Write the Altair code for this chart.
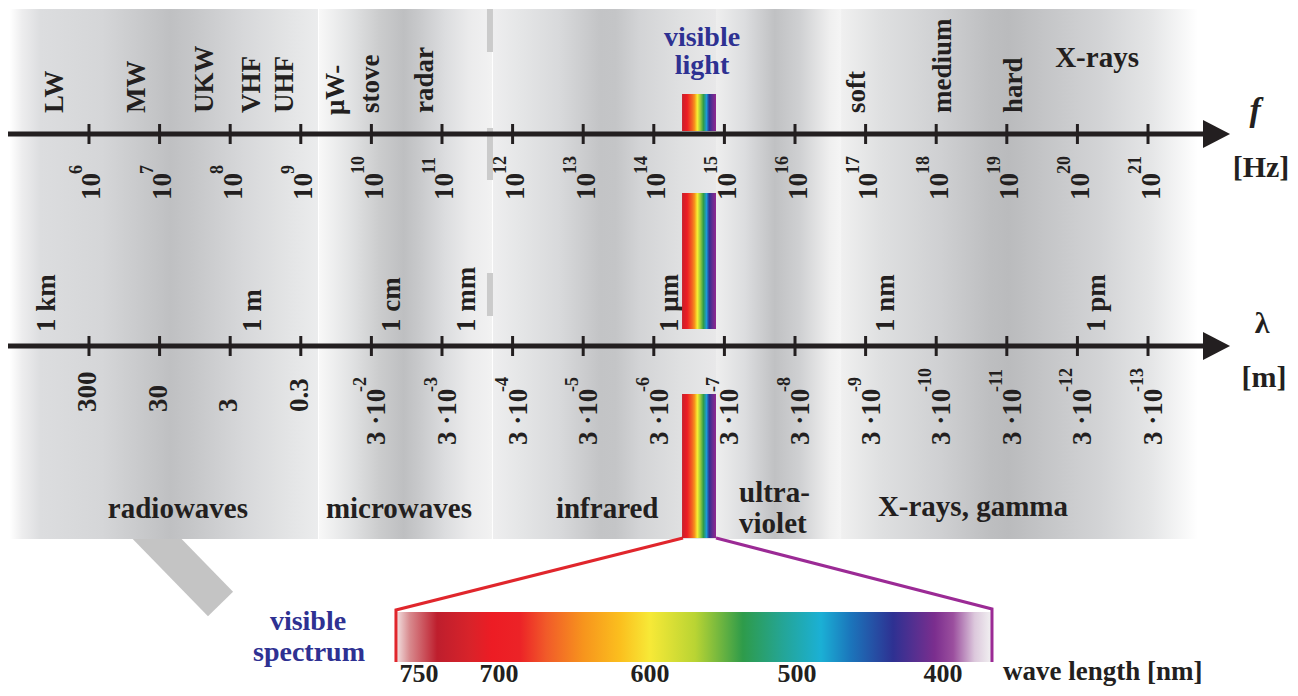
import altair as alt
import pandas as pd

# ---------------- data ----------------
# frequency decades (log10 f/Hz) carrying a tick on both axes
f_exponents = list(range(6, 22))
# wavelength labels under the lambda axis
lam_plain_text = ["300", "30", "3", "0.3"]          # at 10^6 .. 10^9 Hz
lam_plain_pos = [6, 7, 8, 9]
lam_exp_text = ["-2", "-3", "-4", "-5", "-6", "-7", "-8", "-9", "-10", "-11", "-12", "-13"]
lam_exp_pos = list(range(10, 22))

# names above the frequency axis (position in log10 f)
f_top_text = ["LW", "MW", "UKW", "VHF", "UHF", "\u03bcW-", "stove", "radar", "soft", "medium", "hard"]
f_top_pos = [5.52, 6.68, 7.64, 8.31, 8.78, 9.50, 9.99, 10.76, 16.88, 18.10, 19.10]

# names above the wavelength axis
lam_top_text = ["1 km", "1 m", "1 cm", "1 mm", "1 \u03bcm", "1 nm", "1 pm"]
lam_top_pos = [5.41, 8.32, 10.29, 11.35, 14.23, 17.29, 20.28]

# spectral regions (band limits in log10 f)
region_text = ["radiowaves", "microwaves", "infrared", "X-rays, gamma"]
region_pos = [7.26, 10.39, 13.34, 18.52]
band_start = [4.88, 9.258, 11.722, 14.881, 16.652]
band_end = [9.244, 11.708, 14.881, 16.652, 21.708]

# visible light strip
visible_start, visible_end = 14.40, 14.881

# visible spectrum (wavelength in nm) and its label positions
spectrum_nm = ["750", "700", "600", "500", "400"]
spectrum_pos = [10.674, 11.807, 13.946, 16.028, 18.096]
spectrum_start, spectrum_end = 10.348, 18.790

# ---------------- layout constants ----------------
X_MIN, X_MAX = 4.853, 23.011          # log10 f range of the whole canvas
PX = 1 / 70.6                          # one pixel in decades
F_Y, L_Y = 134, 346                    # axis rows
BAR_TOP, BAR_BOTTOM = 612, 662
TXT = "#231f20"
BLUE = "#2e3192"
FONT = "Liberation Serif"

XS = alt.Scale(domain=[X_MIN, X_MAX], nice=False, zero=False)
YS = alt.Scale(domain=[8, 688], nice=False, zero=False, reverse=True)


def X(f="x"):
    return alt.X(f"{f}:Q", scale=XS, axis=None)


def Y(f="y"):
    return alt.Y(f"{f}:Q", scale=YS, axis=None)


def grad(stops):
    return alt.Gradient(
        gradient="linear", x1=0, x2=1, y1=0, y2=0,
        stops=[alt.GradientStop(offset=o, color=c) for o, c in stops],
    )


layers = []

# gray diagonal shape behind the bands
diag = pd.DataFrame({"x": [6.676], "y": [518], "x2": [7.863], "y2": [604]})
layers.append(
    alt.Chart(diag).mark_rule(strokeWidth=35, color="#c4c4c4", strokeCap="butt")
    .encode(x=X(), y=Y(), x2="x2:Q", y2="y2:Q")
)

# gradient bands
band_stops = [
    [(0, "#ffffff"), (0.04, "#ededee"), (0.1, "#dcdddf"), (0.3, "#d5d6d8"), (0.42, "#c9cacc"),
     (0.52, "#bfc0c2"), (0.6, "#c6c7c9"), (0.75, "#d6d7d9"), (0.9, "#e3e4e5"), (1, "#ebeced")],
    [(0, "#f8f8f8"), (0.18, "#e2e3e4"), (0.35, "#cbcccd"), (0.49, "#bebfc1"), (0.58, "#c8c9cb"),
     (0.73, "#dcdddf"), (0.87, "#ebebec"), (1, "#f2f2f2")],
    [(0, "#eeeeef"), (0.12, "#e5e6e7"), (0.3, "#d8d9db"), (0.48, "#c3c4c6"), (0.55, "#c4c5c7"),
     (0.66, "#d3d4d6"), (0.84, "#dfe0e1"), (1, "#e8e8e9")],
    [(0, "#eeeeee"), (0.23, "#dcdddf"), (0.47, "#c0c1c3"), (0.67, "#cfd0d2"), (0.91, "#efefef"),
     (1, "#f5f5f5")],
    [(0, "#f0f0f0"), (0.11, "#dfe0e1"), (0.28, "#cfd0d2"), (0.42, "#bdbec0"), (0.47, "#babbbd"),
     (0.59, "#c6c7c9"), (0.73, "#d3d4d6"), (0.87, "#e5e6e7"), (1, "#ffffff")],
]
for x0, x1, st in zip(band_start, band_end, band_stops):
    d = pd.DataFrame({"x": [x0], "x2": [x1], "y": [9], "y2": [539]})
    layers.append(
        alt.Chart(d).mark_rect(color=grad(st))
        .encode(x=X(), x2="x2:Q", y=Y(), y2="y2:Q")
    )

# thin gray strips peeking between microwaves and infrared
strips = pd.DataFrame({"x": [11.637] * 3, "x2": [11.722] * 3, "y": [9, 128, 273], "y2": [52, 180, 316]})
layers.append(
    alt.Chart(strips).mark_rect(color="#cbcbcb")
    .encode(x=X(), x2="x2:Q", y=Y(), y2="y2:Q")
)

# rainbow strips of visible light
rainbow = [(0, "#c8202a"), (0.15, "#ed1c24"), (0.3, "#f26522"), (0.37, "#f7941d"), (0.45, "#f9ed32"),
           (0.55, "#8dc63f"), (0.63, "#2e9b4a"), (0.72, "#1b9ad6"), (0.8, "#2e3192"), (0.9, "#662d91"),
           (1, "#92278f")]
vis = pd.DataFrame({"x": [visible_start] * 3, "x2": [visible_end] * 3,
                    "y": [94, 193, 394], "y2": [131, 329, 538]})

# axes lines
axes = pd.DataFrame({"x": [X_MIN, X_MIN], "x2": [21.80, 21.80], "y": [F_Y, L_Y]})
layers.append(
    alt.Chart(axes).mark_rule(strokeWidth=5, color=TXT)
    .encode(x=X(), x2="x2:Q", y=Y())
)
ticks = pd.DataFrame({
    "x": f_exponents + f_exponents,
    "y": [F_Y - 10] * len(f_exponents) + [L_Y - 10] * len(f_exponents),
    "y2": [F_Y + 10] * len(f_exponents) + [L_Y + 10] * len(f_exponents),
})
layers.append(
    alt.Chart(ticks).mark_rule(strokeWidth=3, color=TXT)
    .encode(x=X(), y=Y(), y2="y2:Q")
)
arrows = pd.DataFrame({
    "axis": ["f", "f", "l", "l"],
    "x": [21.779, 22.162, 21.779, 22.162],
    "y": [F_Y - 14, F_Y, L_Y - 14, L_Y],
    "y2": [F_Y + 14, F_Y, L_Y + 14, L_Y],
})
layers.append(
    alt.Chart(arrows).mark_area(color=TXT, orient="vertical")
    .encode(x=X(), y=Y(), y2="y2:Q", detail="axis:N")
)

# visible spectrum bar
spec_stops = [(0, "#f3e4e4"), (0.023, "#d88a8e"), (0.069, "#be1e2d"), (0.124, "#d8232a"),
              (0.161, "#ed1c24"), (0.208, "#ec2327"), (0.252, "#f15a29"), (0.314, "#f7941d"),
              (0.376, "#fbbf1e"), (0.426, "#f7e937"), (0.502, "#b9d433"), (0.582, "#2e9b4a"),
              (0.649, "#24a596"), (0.713, "#1bb0d5"), (0.763, "#1b75bb"), (0.834, "#2e3192"),
              (0.904, "#7b2e8e"), (0.935, "#9b4f9e"), (0.971, "#dcc8dc"), (1, "#f2f2f2")]
bar = pd.DataFrame({"x": [spectrum_start], "x2": [spectrum_end], "y": [BAR_TOP], "y2": [BAR_BOTTOM]})
layers.append(
    alt.Chart(bar).mark_rect(color=grad(spec_stops))
    .encode(x=X(), x2="x2:Q", y=Y(), y2="y2:Q")
)

# connecting lines
red = pd.DataFrame({"i": [0, 1, 2], "x": [14.414, spectrum_start, spectrum_start],
                    "y": [538, BAR_TOP - 2, BAR_BOTTOM]})
purple = pd.DataFrame({"i": [0, 1, 2], "x": [visible_end, spectrum_end, spectrum_end],
                       "y": [538, BAR_TOP - 3, BAR_BOTTOM]})
for d, c in [(red, "#e0262c"), (purple, "#9b2a95")]:
    layers.append(
        alt.Chart(d).mark_line(color=c, strokeWidth=3, strokeJoin="miter")
        .encode(x=X(), y=Y(), order="i:Q")
    )

# ---------------- texts ----------------
ROT = dict(angle=270, align="left", baseline="middle", font=FONT, fontWeight="bold", color=TXT)


def rot_text(df, size):
    return alt.Chart(df).mark_text(fontSize=size, **ROT).encode(x=X(), y=Y(), text="t:N")


# names above f axis
ft = pd.DataFrame({"t": f_top_text, "x": f_top_pos,
                   "y": [113, 113, 113, 113, 113, 115, 113, 113, 113, 113, 113]})
layers.append(rot_text(ft, 27))
# names above lambda axis
lt = pd.DataFrame({"t": lam_top_text, "x": lam_top_pos, "y": [332] * len(lam_top_text)})
layers.append(rot_text(lt, 27))

# the rainbow strips sit over the "1 µm" label
layers.append(
    alt.Chart(vis).mark_rect(color=grad(rainbow))
    .encode(x=X(), x2="x2:Q", y=Y(), y2="y2:Q")
)

# 10^n labels
fb = pd.DataFrame({"t": ["10"] * len(f_exponents), "x": [e + 3.5 * PX for e in f_exponents],
                   "y": [200] * len(f_exponents)})
layers.append(rot_text(fb, 27))
fs = pd.DataFrame({"t": [str(e) for e in f_exponents], "x": [e - 12 * PX for e in f_exponents],
                   "y": [174] * len(f_exponents)})
layers.append(rot_text(fs, 18))
# wavelength labels
lp = pd.DataFrame({"t": lam_plain_text, "x": [e - 1 * PX for e in lam_plain_pos], "y": [412] * 4})
layers.append(rot_text(lp, 27))
lb = pd.DataFrame({"t": ["3 \u00b710"] * len(lam_exp_pos), "x": [e + 6 * PX for e in lam_exp_pos],
                   "y": [445] * len(lam_exp_pos)})
layers.append(rot_text(lb, 27))
ls = pd.DataFrame({"t": lam_exp_text, "x": [e - 10 * PX for e in lam_exp_pos],
                   "y": [392] * len(lam_exp_pos)})
layers.append(rot_text(ls, 18))

HOR = dict(font=FONT, fontWeight="bold", baseline="alphabetic")

# region names
rg = pd.DataFrame({"t": region_text, "x": region_pos, "y": [518, 518, 518, 516]})
layers.append(alt.Chart(rg).mark_text(fontSize=29, align="center", color=TXT, **HOR)
              .encode(x=X(), y=Y(), text="t:N"))
uv = pd.DataFrame({"t": ["ultra-", "violet"], "x": [15.207, 15.207], "y": [502, 533]})
layers.append(alt.Chart(uv).mark_text(fontSize=29, align="left", color=TXT, **HOR)
              .encode(x=X(), y=Y(), text="t:N"))
xr = pd.DataFrame({"t": ["X-rays"], "x": [20.278], "y": [67]})
layers.append(alt.Chart(xr).mark_text(fontSize=29, align="center", color=TXT, **HOR)
              .encode(x=X(), y=Y(), text="t:N"))

# blue captions
bl = pd.DataFrame({"t": ["visible", "light", "visible", "spectrum"],
                   "x": [14.683, 14.683, 9.102, 9.116], "y": [46, 74, 630, 661]})
layers.append(alt.Chart(bl).mark_text(fontSize=28, align="center", color=BLUE, **HOR)
              .encode(x=X(), y=Y(), text="t:N"))

# spectrum wavelength numbers (kept inside the drawable page)
sn = pd.DataFrame({"t": spectrum_nm, "x": spectrum_pos, "y": [682] * 5})
layers.append(alt.Chart(sn).mark_text(fontSize=26, align="center", color=TXT, **HOR)
              .encode(x=X(), y=Y(), text="t:N"))
wl = pd.DataFrame({"t": ["wave length [nm]"], "x": [18.946], "y": [680]})
layers.append(alt.Chart(wl).mark_text(fontSize=27, align="left", color=TXT, **HOR)
              .encode(x=X(), y=Y(), text="t:N"))

# axis symbols and units
fsym = pd.DataFrame({"t": ["f"], "x": [22.516], "y": [121]})
layers.append(alt.Chart(fsym).mark_text(fontSize=34, align="center", color=TXT, fontStyle="italic", **HOR)
              .encode(x=X(), y=Y(), text="t:N"))
units = pd.DataFrame({"t": ["[Hz]", "\u03bb", "[m]"], "x": [22.60, 22.615, 22.643], "y": [177, 333, 387]})
layers.append(alt.Chart(units).mark_text(fontSize=30, align="center", color=TXT, **HOR)
              .encode(x=X(), y=Y(), text="t:N"))

chart = (
    alt.layer(*layers)
    .properties(width=1282, height=680, padding=0, background="white",
                autosize=alt.AutoSizeParams(type="none"))
    .configure_view(stroke=None)
)

chart.save("out.html", embed_options={"renderer": "svg", "actions": False})
